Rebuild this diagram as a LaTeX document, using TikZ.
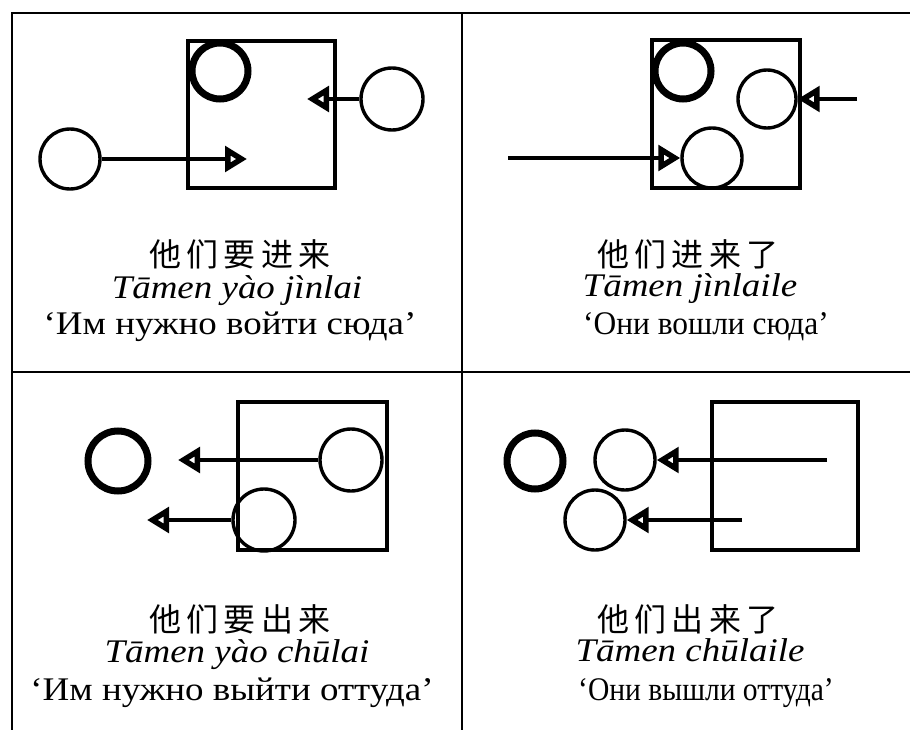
\documentclass[tikz,border=0pt]{standalone}
\usepackage{fontspec}
\usepackage{graphicx}
\setmainfont{Liberation Serif}[FakeStretch=1.12]
\newfontfamily\cjk{Noto Sans CJK SC}[LetterSpace=16]
\usetikzlibrary{arrows.meta}

\tikzset{
  frameline/.style={line width=2.4pt},
  room/.style={draw, line width=3.6pt, inner sep=0pt},
  person/.style={circle, draw, line width=3.4pt, inner sep=0pt},
  speaker/.style={person, line width=7pt},
  move/.style={line width=3.4pt,
    -{Triangle[open, length=22pt, width=25pt, line width=5.5pt]}},
  hanzi/.style={anchor=base, font=\cjk\fontsize{32}{32}\selectfont},
  pinyin/.style={anchor=base, font=\itshape\fontsize{33}{33}\selectfont},
  gloss/.style={anchor=base, font=\fontsize{33}{33}\selectfont},
}

\begin{document}
\begin{tikzpicture}[x=1pt, y=-1pt]
  \useasboundingbox (0,0) rectangle (910,730);

  % table grid
  \draw[frameline] (910,13) -- (12,13) -- (12,730);
  \draw[frameline] (462,13) -- (462,730);
  \draw[frameline] (12,372) -- (910,372);

  % --- top left: going in (intended)
  \node[room, minimum width=147pt, minimum height=147pt] (r1) at (261.5,114.5) {};
  \node[speaker, minimum size=56pt] (s1) at (220,71) {};
  \node[person, minimum size=62pt] (a1) at (392,99) {};
  \node[person, minimum size=60pt] (b1) at (70,159) {};
  \coordinate (ta1) at (307,99);
  \coordinate (tb1) at (247,159);
  \draw[move] (a1.west) -- (ta1);
  \draw[move] (b1.east) -- (tb1);
  \node[hanzi] (h1) at (240,266) {他们要进来};
  \node[pinyin] (p1) at (237,298) {Tāmen yào jìnlai};
  \node[gloss] (g1) at (230,334) {‘Им нужно войти сюда’};

  % --- top right: went in
  \node[room, minimum width=148pt, minimum height=148pt] (r2) at (726,114) {};
  \node[speaker, minimum size=56pt] (s2) at (683,71) {};
  \node[person, minimum size=58pt] (a2) at (767,99) {};
  \node[person, minimum size=60pt] (b2) at (712,158) {};
  \coordinate (fa2) at (857,99);
  \coordinate (fb2) at (508,158);
  \draw[move] (fa2) -- (a2.east);
  \draw[move] (fb2) -- (b2.west);
  \node[hanzi] (h2) at (688,266) {他们进来了};
  \node[pinyin] (p2) at (690,296) {Tāmen jìnlaile};
  \node[gloss] (g2) at (706,334) {\scalebox{0.85}[1]{‘Они вошли сюда’}};

  % --- bottom left: going out (intended)
  \node[room, minimum width=149pt, minimum height=148pt] (r3) at (312.5,476) {};
  \node[speaker, minimum size=60pt] (s3) at (118,461) {};
  \node[person, minimum size=62pt] (a3) at (351,460) {};
  \node[person, minimum size=62pt] (b3) at (264,520) {};
  \coordinate (ta3) at (178,460);
  \coordinate (tb3) at (147,520);
  \draw[move] (a3.west) -- (ta3);
  \draw[move] (b3.west) -- (tb3);
  \node[hanzi] (h3) at (240,631) {他们要出来};
  \node[pinyin] (p3) at (237,662) {Tāmen yào chūlai};
  \node[gloss] (g3) at (232,700) {‘Им нужно выйти оттуда’};

  % --- bottom right: went out
  \node[room, minimum width=146pt, minimum height=148pt] (r4) at (785,476) {};
  \node[speaker, minimum size=56pt] (s4) at (535,461) {};
  \node[person, minimum size=60pt] (a4) at (625,460) {};
  \node[person, minimum size=60pt] (b4) at (595,520) {};
  \coordinate (fa4) at (827,460);
  \coordinate (fb4) at (742,520);
  \draw[move] (fa4) -- (a4.east);
  \draw[move] (fb4) -- (b4.east);
  \node[hanzi] (h4) at (688,631) {他们出来了};
  \node[pinyin] (p4) at (690,661) {Tāmen chūlaile};
  \node[gloss] (g4) at (706,700) {\scalebox{0.8}[1]{‘Они вышли оттуда’}};
\end{tikzpicture}
\end{document}
